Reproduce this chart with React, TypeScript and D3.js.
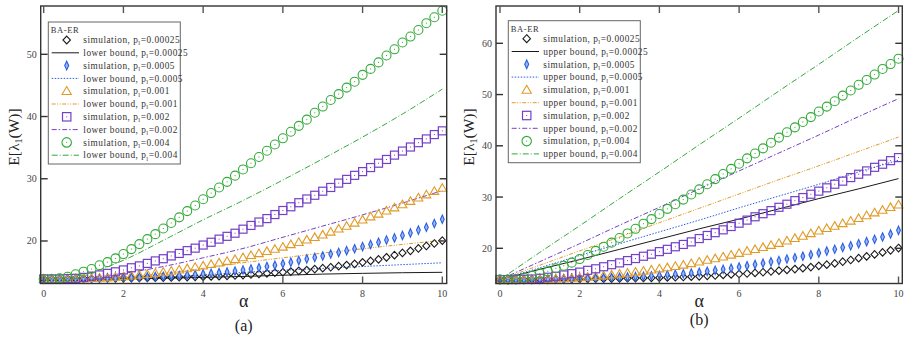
import { useEffect, useRef } from "react";
import * as d3 from "d3";

// alpha grid of the simulation markers
const alpha = [
  0, 0.2, 0.4, 0.6, 0.8, 1, 1.2, 1.4, 1.6, 1.8, 2, 2.2, 2.4, 2.6, 2.8, 3, 3.2, 3.4, 3.6, 3.8, 4,
  4.2, 4.4, 4.6, 4.8, 5, 5.2, 5.4, 5.6, 5.8, 6, 6.2, 6.4, 6.6, 6.8, 7, 7.2, 7.4, 7.6, 7.8, 8,
  8.2, 8.4, 8.6, 8.8, 9, 9.2, 9.4, 9.6, 9.8, 10,
];

// simulation, same in both panels
const simP00025 = [
  13.9, 13.9, 13.9, 13.9, 13.92, 13.93, 13.94, 13.96, 13.98, 14.0, 14.02, 14.04, 14.06, 14.08, 14.1,
  14.12, 14.15, 14.18, 14.21, 14.24, 14.27, 14.31, 14.35, 14.4, 14.46, 14.53, 14.62, 14.7, 14.8, 14.9,
  14.98, 15.08, 15.2, 15.33, 15.48, 15.63, 15.78, 15.95, 16.13, 16.33, 16.57, 16.8, 17.05, 17.38,
  17.72, 18.08, 18.42, 18.8, 19.2, 19.6, 20.05,
];
const simP0005 = [
  13.9, 13.9, 13.9, 13.92, 13.94, 13.96, 13.98, 14.0, 14.03, 14.06, 14.1, 14.14, 14.18, 14.23, 14.28,
  14.34, 14.4, 14.47, 14.55, 14.63, 14.72, 14.82, 14.92, 15.03, 15.17, 15.34, 15.5, 15.7, 15.9, 16.1,
  16.35, 16.6, 16.85, 17.1, 17.35, 17.6, 17.9, 18.15, 18.45, 18.75, 19.1, 19.45, 19.8, 20.15, 20.5,
  20.9, 21.3, 21.75, 22.2, 22.8, 23.5,
];
const simP001 = [
  13.9, 13.9, 13.9, 13.9, 13.92, 13.95, 14.0, 14.05, 14.1, 14.2, 14.3, 14.4, 14.52, 14.66, 14.82,
  15.0, 15.18, 15.38, 15.58, 15.8, 16.02, 16.25, 16.5, 16.75, 17.05, 17.35, 17.7, 18.0, 18.35, 18.7,
  19.05, 19.45, 19.8, 20.2, 20.6, 21.0, 21.45, 21.95, 22.4, 22.9, 23.4, 23.9, 24.35, 24.85, 25.35,
  25.85, 26.4, 26.95, 27.45, 28.0, 28.5,
];
const simP002 = [
  13.9, 13.9, 13.9, 13.95, 14.0, 14.15, 14.35, 14.55, 14.8, 15.05, 15.35, 15.7, 16.0, 16.4, 16.8,
  17.15, 17.6, 18.0, 18.45, 18.85, 19.35, 19.8, 20.3, 20.75, 21.25, 21.9, 22.5, 23.05, 23.6, 24.25,
  24.9, 25.5, 26.15, 26.75, 27.35, 28.0, 28.6, 29.3, 29.9, 30.55, 31.15, 31.8, 32.5, 33.1, 33.8,
  34.45, 35.1, 35.8, 36.4, 37.1, 37.7,
];
const simP004 = [
  13.9, 13.9, 14.0, 14.26, 14.65, 15.07, 15.5, 16.1, 16.6, 17.2, 17.9, 18.7, 19.5, 20.3, 21.1, 22.0,
  22.9, 23.8, 24.8, 25.7, 26.7, 27.7, 28.6, 29.5, 30.5, 31.5, 32.5, 33.5, 34.5, 35.5, 36.5, 37.55,
  38.5, 39.5, 40.6, 41.6, 42.65, 43.6, 44.65, 45.6, 46.7, 47.65, 48.7, 49.8, 50.8, 51.9, 52.85, 53.9,
  55.0, 55.95, 57.0,
];

// bounds, read at integer alpha
const boundAlpha = [0, 1, 2, 3, 4, 5, 6, 7, 8, 9, 10];
const lowerP00025 = [13.9, 13.92, 13.95, 14.03, 14.15, 14.3, 14.5, 14.68, 14.8, 14.9, 14.97];
const lowerP0005 = [13.9, 13.92, 14.0, 14.2, 14.55, 14.95, 15.3, 15.6, 15.9, 16.2, 16.5];
const lowerP001 = [13.9, 13.95, 14.2, 14.8, 15.6, 16.5, 17.3, 18.05, 18.75, 19.45, 20.1];
const lowerP002 = [13.9, 14.1, 14.8, 15.9, 17.3, 18.8, 20.6, 22.4, 24.2, 26.1, 28.1];
const lowerP004 = [13.9, 14.6, 16.9, 20.1, 23.4, 26.5, 29.8, 33.2, 36.7, 40.4, 44.4];

const upperP00025 = [13.9, 15.9, 17.8, 19.8, 21.8, 23.8, 25.7, 27.7, 29.7, 31.6, 33.6];
const upperP0005 = [13.9, 16.2, 18.6, 20.9, 23.2, 25.5, 27.9, 30.2, 32.5, 34.9, 37.2];
const upperP001 = [13.9, 16.7, 19.5, 22.2, 25.0, 27.8, 30.6, 33.4, 36.1, 38.9, 41.7];
const upperP002 = [13.9, 17.4, 20.9, 24.5, 28.0, 31.6, 35.1, 38.6, 42.1, 45.7, 49.2];
const upperP004 = [13.9, 19.2, 24.4, 29.7, 34.9, 40.2, 45.4, 50.7, 55.9, 61.2, 66.4];

const probLabels = ["0.00025", "0.0005", "0.001", "0.002", "0.004"];
const xTicks = [0, 2, 4, 6, 8, 10];
const yTicksA = [20, 30, 40, 50];
const yTicksB = [20, 30, 40, 50, 60];

const sims = [simP00025, simP0005, simP001, simP002, simP004];
const lowers = [lowerP00025, lowerP0005, lowerP001, lowerP002, lowerP004];
const uppers = [upperP00025, upperP0005, upperP001, upperP002, upperP004];

const colors = ["#1a1a1a", "#2b5fe3", "#e09a28", "#7440c8", "#34a93a"];
const dashes = ["none", "1.5,1.5", "4,1.5,1,1.5,1,1.5", "5,2,1.5,2", "6,2,1,2"];
const shapes = ["diamond", "thin", "triangle", "square", "circle"];

const FONT = "'Liberation Serif', 'Times New Roman', 'DejaVu Serif', serif";

const App = () => {
  const svgRef = useRef<SVGSVGElement>(null);

  useEffect(() => {
    const svg = d3.select(svgRef.current);
    svg.selectAll("*").remove();

    const panels = [
      {
        left: 40.7, right: 446.7, top: 6, bottom: 283.5,
        xDom: [-0.075, 10.11], yDom: [13.17, 57.76], yTicks: yTicksA,
        bounds: lowers, boundName: "lower bound", tag: "(a)", tagY: 331,
        legX: 48.3, legY: 22,
      },
      {
        left: 496, right: 902.3, top: 6, bottom: 283.5,
        xDom: [-0.1, 10.095], yDom: [13.13, 67.28], yTicks: yTicksB,
        bounds: uppers, boundName: "upper bound", tag: "(b)", tagY: 325,
        legX: 508.3, legY: 20.7,
      },
    ];

    function drawMarker(g: any, shape: string, cx: number, cy: number, color: string, s = 1) {
      if (shape === "diamond") {
        g.append("path")
          .attr("d", `M${cx},${cy - 3.8 * s}L${cx + 3.6 * s},${cy}L${cx},${cy + 3.8 * s}L${cx - 3.6 * s},${cy}Z`)
          .attr("fill", "none").attr("stroke", color).attr("stroke-width", 1.1);
      } else if (shape === "thin") {
        g.append("path")
          .attr("d", `M${cx},${cy - 4.2 * s}L${cx + 1.9 * s},${cy}L${cx},${cy + 4.2 * s}L${cx - 1.9 * s},${cy}Z`)
          .attr("fill", "#9db6f3").attr("stroke", color).attr("stroke-width", 1.1);
      } else if (shape === "triangle") {
        g.append("path")
          .attr("d", `M${cx},${cy - 4.4 * s}L${cx + 4.4 * s},${cy + 3.2 * s}L${cx - 4.4 * s},${cy + 3.2 * s}Z`)
          .attr("fill", "none").attr("stroke", color).attr("stroke-width", 1.1);
      } else if (shape === "square") {
        g.append("rect")
          .attr("x", cx - 4 * s).attr("y", cy - 4 * s).attr("width", 8 * s).attr("height", 8 * s)
          .attr("fill", "none").attr("stroke", color).attr("stroke-width", 1.2);
        g.append("rect").attr("x", cx - 0.5).attr("y", cy - 0.5).attr("width", 1).attr("height", 1)
          .attr("fill", color);
      } else {
        g.append("circle").attr("cx", cx).attr("cy", cy).attr("r", 4.5 * s)
          .attr("fill", "none").attr("stroke", color).attr("stroke-width", 1.1);
        g.append("rect").attr("x", cx - 0.5).attr("y", cy - 0.5).attr("width", 1).attr("height", 1)
          .attr("fill", color);
      }
    }

    panels.forEach((p) => {
      const g = svg.append("g");
      const x = d3.scaleLinear().domain(p.xDom).range([p.left, p.right]);
      const y = d3.scaleLinear().domain(p.yDom).range([p.bottom, p.top]);

      // bound lines
      const line = d3
        .line<number>()
        .x((_, i) => x(boundAlpha[i]))
        .y((d) => y(d))
        .curve(d3.curveMonotoneX);
      p.bounds.forEach((vals, k) => {
        g.append("path")
          .attr("d", line(vals))
          .attr("fill", "none")
          .attr("stroke", colors[k])
          .attr("stroke-width", 1)
          .attr("stroke-dasharray", dashes[k]);
      });

      // simulation markers
      sims.forEach((vals, k) => {
        const mg = g.append("g");
        vals.forEach((v, i) => drawMarker(mg, shapes[k], x(alpha[i]), y(v), colors[k]));
      });

      // frame
      g.append("rect")
        .attr("x", p.left).attr("y", p.top)
        .attr("width", p.right - p.left).attr("height", p.bottom - p.top)
        .attr("fill", "none").attr("stroke", "#333").attr("stroke-width", 1.4);

      // ticks (inward) and labels
      xTicks.forEach((t) => {
        g.append("line").attr("x1", x(t)).attr("x2", x(t)).attr("y1", p.bottom).attr("y2", p.bottom - 7)
          .attr("stroke", "#555").attr("stroke-width", 1.4);
        g.append("line").attr("x1", x(t)).attr("x2", x(t)).attr("y1", p.top).attr("y2", p.top + 7)
          .attr("stroke", "#555").attr("stroke-width", 1.4);
        g.append("text").attr("x", x(t)).attr("y", 297).attr("text-anchor", "middle")
          .attr("font-family", FONT).attr("font-size", 10).attr("fill", "#444").text(t);
      });
      p.yTicks.forEach((t) => {
        g.append("line").attr("x1", p.left).attr("x2", p.left + 7).attr("y1", y(t)).attr("y2", y(t))
          .attr("stroke", "#333").attr("stroke-width", 1.4);
        g.append("line").attr("x1", p.right).attr("x2", p.right - 7).attr("y1", y(t)).attr("y2", y(t))
          .attr("stroke", "#333").attr("stroke-width", 1.4);
        g.append("text").attr("x", p.left - 4).attr("y", y(t) + 3.5).attr("text-anchor", "end")
          .attr("font-family", FONT).attr("font-size", 10).attr("fill", "#444").text(t);
      });

      // axis titles
      const cx = (p.left + p.right) / 2;
      g.append("text").attr("x", cx).attr("y", 307).attr("text-anchor", "middle")
        .attr("font-family", FONT).attr("font-size", 18).attr("fill", "#222").text("α");
      g.append("text").attr("x", cx).attr("y", p.tagY).attr("text-anchor", "middle")
        .attr("font-family", FONT).attr("font-size", 16).attr("fill", "#222").text(p.tag);

      const yl = g.append("text")
        .attr("transform", `translate(${p.left - 22},${137}) rotate(-90)`)
        .attr("text-anchor", "middle")
        .attr("font-family", FONT).attr("font-size", 15.5).attr("fill", "#222");
      yl.append("tspan").text("E[λ");
      yl.append("tspan").attr("font-size", 10).attr("dy", 3).text("1");
      yl.append("tspan").attr("dy", -3).text("(W)]");

      // legend
      const lg = g.append("g");
      lg.append("rect").attr("x", p.legX).attr("y", p.legY).attr("width", 132).attr("height", 142)
        .attr("fill", "#fff").attr("stroke", "#666").attr("stroke-width", 1);
      lg.append("text").attr("x", p.legX + 2.5).attr("y", p.legY + 11)
        .attr("font-family", FONT).attr("font-size", 8.5).attr("letter-spacing", 0.6).attr("fill", "#333")
        .text("BA-ER");
      probLabels.forEach((pl, k) => {
        [0, 1].forEach((j) => {
          const ry = p.legY + 18 + (k * 2 + j) * 12.8;
          if (j === 0) {
            drawMarker(lg, shapes[k], p.legX + 18.4, ry, colors[k], 1.05);
          } else {
            lg.append("line").attr("x1", p.legX + 3.4).attr("x2", p.legX + 30.7)
              .attr("y1", ry).attr("y2", ry)
              .attr("stroke", colors[k]).attr("stroke-width", 1).attr("stroke-dasharray", dashes[k]);
          }
          const tx = lg.append("text").attr("x", p.legX + 35).attr("y", ry + 3.2)
            .attr("font-family", FONT).attr("font-size", 9.3).attr("letter-spacing", 0.5).attr("fill", "#333");
          tx.append("tspan").text((j === 0 ? "simulation" : p.boundName) + ", p");
          tx.append("tspan").attr("font-size", 6.5).attr("dy", 2.2).text("l");
          tx.append("tspan").attr("dy", -2.2).text("=" + pl);
        });
      });
    });
  }, []);

  return (
    <div style={{ position: "absolute", left: 0, top: 0 }}>
      <svg ref={svgRef} width={921} height={342} style={{ display: "block", background: "#fff" }} />
    </div>
  );
};

export default App;
